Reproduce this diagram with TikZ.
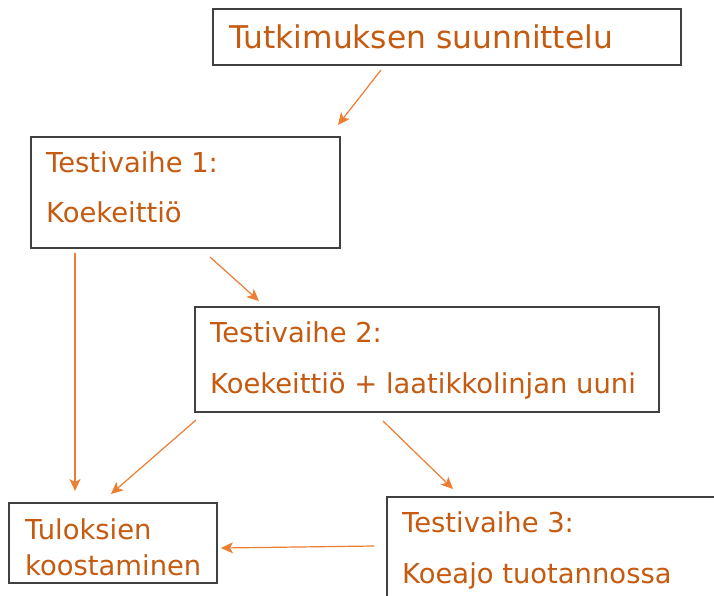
\documentclass[tikz,border=0pt]{standalone}
\usepackage{fontspec}
\setmainfont{DejaVu Sans}
\usetikzlibrary{arrows.meta}
\definecolor{txt}{HTML}{C55A11}
\definecolor{arr}{HTML}{ED7D31}
\definecolor{frame}{HTML}{404040}
\tikzset{
  boxnode/.style={draw=frame, line width=1.4pt, rectangle, inner sep=0pt},
  lbl/.style={anchor=base west, inner sep=0pt, text=txt, font=\fontsize{27.4}{31}\selectfont},
  ttl/.style={anchor=base west, inner sep=0pt, text=txt, font=\fontsize{31.3}{35}\selectfont},
  conn/.style={draw=arr, line width=1.2pt, -{Stealth[length=12pt,width=11pt,inset=3pt]}}
}
\begin{document}
\begin{tikzpicture}[x=1pt,y=-1pt]
\useasboundingbox (0,0) rectangle (714,595);
\clip (0,0) rectangle (714,595);
\fill[white] (0,0) rectangle (714,595);
% boxes
\node[boxnode, minimum width=468pt, minimum height=56pt] (A) at (447,37) {};
\node[boxnode, minimum width=309pt, minimum height=111pt] (B) at (185.5,192.5) {};
\node[boxnode, minimum width=464pt, minimum height=105pt] (C) at (427,359.5) {};
\node[boxnode, minimum width=208pt, minimum height=80pt] (D) at (113,543) {};
\node[boxnode, minimum width=360pt, minimum height=120pt] (E) at (567,557) {};
% texts
\node[ttl] (tA) at (229,48) {Tutkimuksen suunnittelu};
\node[lbl] (tB1) at (46,172) {Testivaihe 1:};
\node[lbl] (tB2) at (46,222) {Koekeittiö};
\node[lbl] (tC1) at (210,342) {Testivaihe 2:};
\node[lbl] (tC2) at (210,393) {Koekeittiö + laatikkolinjan uuni};
\node[lbl] (tD1) at (25,539) {Tuloksien};
\node[lbl] (tD2) at (25,575) {koostaminen};
\node[lbl] (tE1) at (402,532) {Testivaihe 3:};
\node[lbl] (tE2) at (402,583) {Koeajo tuotannossa};
% connector end points
\coordinate (a1) at (381,70);  \coordinate (b1) at (338,125);
\coordinate (b2) at (210,257); \coordinate (c1) at (259,301);
\coordinate (b3) at (75,253);  \coordinate (d1) at (75,491);
\coordinate (c2) at (196,420); \coordinate (d2) at (111,494);
\coordinate (c3) at (383,421); \coordinate (e1) at (453,489);
\coordinate (e2) at (374,546); \coordinate (d3) at (221,548);
\draw[conn] (a1) -- (b1);
\draw[conn] (b2) -- (c1);
\draw[conn] (b3) -- (d1);
\draw[conn] (c2) -- (d2);
\draw[conn] (c3) -- (e1);
\draw[conn] (e2) -- (d3);
\end{tikzpicture}
\end{document}
